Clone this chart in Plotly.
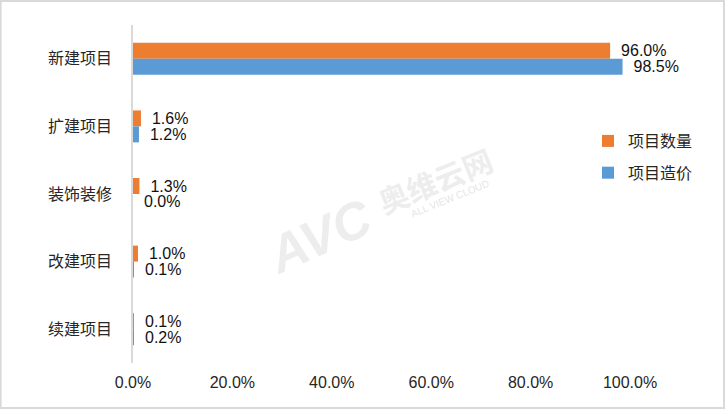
import plotly.graph_objects as go

categories = ["新建项目", "扩建项目", "装饰装修", "改建项目", "续建项目"]
count_share = [0.960, 0.016, 0.013, 0.010, 0.001]
cost_share = [0.985, 0.012, 0.000, 0.001, 0.002]
series_names = ["项目数量", "项目造价"]
x_ticks = [0, 0.2, 0.4, 0.6, 0.8, 1.0]

FONT = "Liberation Sans, Arial, Noto Sans CJK SC, sans-serif"
ORANGE = "#ED7D31"
BLUE = "#5B9BD5"

fig = go.Figure()
for name, vals, col in [(series_names[0], count_share, ORANGE),
                        (series_names[1], cost_share, BLUE)]:
    fig.add_trace(go.Bar(
        y=categories, x=vals, name=name, orientation="h",
        marker=dict(color=col, line=dict(width=0)),
        texttemplate="\u2002%{x:.1%}", textposition="outside",
        textfont=dict(size=16, color="#111111", family=FONT),
        constraintext="none", cliponaxis=False,
        legendgroup=name,
    ))

W, H = 725, 409
L, R, T, B = 133.3, 95, 25, 46
pw, ph = W - L - R, H - T - B

fig.update_layout(
    width=W, height=H,
    margin=dict(l=L, r=R, t=T, b=B),
    paper_bgcolor="white", plot_bgcolor="white",
    barmode="group", bargap=0.527, bargroupgap=0,
    font=dict(family=FONT, size=16, color="#262626"),
    showlegend=True,
    legend=dict(x=(588 - L) / pw, y=(363 - 124) / ph, xanchor="left", yanchor="top",
                font=dict(size=16, family="Noto Sans CJK SC, sans-serif", color="#262626"),
                tracegroupgap=8, bgcolor="rgba(0,0,0,0)", itemwidth=30),
    xaxis=dict(range=[0, 1.0], tickvals=x_ticks, tickformat=".1%",
               showgrid=False, zeroline=False, showline=False, ticks="",
               ticklabelstandoff=8, tickfont=dict(size=16, color="#262626")),
    yaxis=dict(autorange="reversed", showgrid=False, zeroline=False,
               showline=True, linecolor="#d9d9d9", linewidth=1.5, ticks="",
               ticklabelstandoff=16,
               tickfont=dict(size=16, family="Noto Sans CJK SC, sans-serif", color="#262626")),
    shapes=[dict(type="rect", xref="paper", yref="paper",
                 x0=(1 - L) / pw, x1=(W - 1 - L) / pw,
                 y0=(363 - (H - 1)) / ph, y1=(363 - 1) / ph,
                 line=dict(color="#d9d9d9", width=2), fillcolor="rgba(0,0,0,0)",
                 layer="above")],
    annotations=[
        dict(xref="paper", yref="paper", x=(320 - L) / pw, y=(363 - 236) / ph,
             text="<b><i>AVC</i></b>", showarrow=False, textangle=-24,
             font=dict(size=52, color="rgba(225,225,225,0.6)", family=FONT)),
        dict(xref="paper", yref="paper", x=(435 - L) / pw, y=(363 - 180) / ph,
             text="<b>奥维云网</b>", showarrow=False, textangle=-22,
             font=dict(size=30, color="rgba(225,225,225,0.6)",
                       family="Noto Sans CJK SC, sans-serif")),
        dict(xref="paper", yref="paper", x=(450 - L) / pw, y=(363 - 198) / ph,
             text="ALL VIEW CLOUD", showarrow=False, textangle=-22,
             font=dict(size=10, color="rgba(215,215,215,0.7)", family=FONT)),
    ],
)

fig.write_html("out.html", config={"displayModeBar": False},
               post_script="document.body.style.margin='0';")
